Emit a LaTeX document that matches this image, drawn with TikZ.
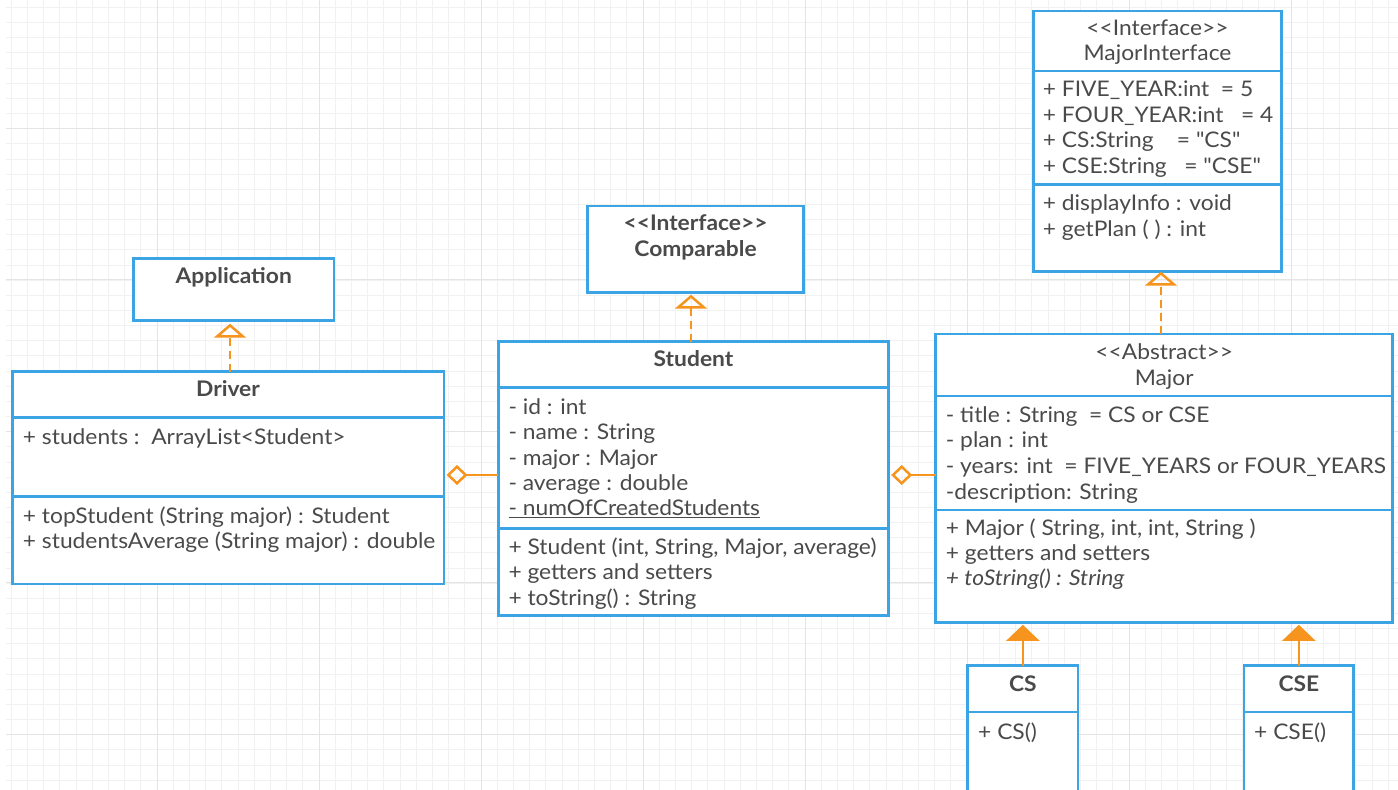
\documentclass[tikz,border=0pt]{standalone}
\usepackage{fontspec}
\setmainfont{Lato}[Ligatures=TeXOff, FakeStretch=1.06]
\usetikzlibrary{arrows.meta}
\definecolor{umlblue}{HTML}{3AA4E4}
\definecolor{umlorange}{HTML}{F7941E}
\definecolor{umltext}{HTML}{4A4A4A}
\definecolor{gridminor}{HTML}{F1F1F1}
\definecolor{gridmajor}{HTML}{E4E4E4}
\begin{document}
\begin{tikzpicture}[x=1pt,y=-1pt,
  box/.style={draw=umlblue, line width=2.5pt, fill=white, anchor=north west, inner sep=0pt, outer sep=0pt},
  sep/.style={draw=umlblue, line width=2.5pt},
  txt/.style={anchor=base west, inner sep=0pt, text=umltext, font=\fontsize{21.5}{25}\selectfont},
  ctr/.style={anchor=base, inner sep=0pt, text=umltext, font=\fontsize{21.5}{25}\selectfont},
  ttl/.style={anchor=base, inner sep=0pt, text=umltext, font=\fontsize{21.5}{25}\selectfont\bfseries},
  realize/.style={draw=umlorange, line width=2.5pt, dash pattern=on 8pt off 5pt,
    -{Triangle[open, length=14pt, width=32pt, line width=2.5pt]}},
  inherit/.style={draw=umlorange, line width=2.5pt, -{Triangle[length=16pt, width=33pt]}},
  agg/.style={draw=umlorange, line width=2.5pt, -{Diamond[open, length=21pt, width=20pt, line width=2.5pt]}}
]
\useasboundingbox (0,0) rectangle (1398,790);
\clip (0,0) rectangle (1398,790);
\fill[white] (0,0) rectangle (1398,790);
% grid
\foreach \i in {0,...,86} \draw[gridminor, line width=1pt] ({11.2+16.2*\i},0) -- ({11.2+16.2*\i},790);
\foreach \j in {0,...,52} \draw[gridminor, line width=1pt] (6,{7.5+15.15*\j}) -- (1398,{7.5+15.15*\j});
\foreach \i in {0,...,8} \draw[gridmajor, line width=1pt] ({157+162*\i},0) -- ({157+162*\i},790);
\foreach \j in {0,...,4} \draw[gridmajor, line width=1pt] (6,{128+151.5*\j}) -- (1398,{128+151.5*\j});

% ---------- MajorInterface ----------
\node[box, minimum width=248.4pt, minimum height=260.7pt] (majorif) at (1033.3,11) {};
\draw[sep] (majorif.west |- 0,71) -- (majorif.east |- 0,71);
\draw[sep] (majorif.west |- 0,184.3) -- (majorif.east |- 0,184.3);
\node[ctr] (mi1) at (1157.5,35) {<<Interface>>};
\node[ctr] (mi2) at (1157.5,60) {MajorInterface};
\node[txt] (mi3) at (1042.7,96.7) {+ FIVE\_YEAR:int\ \ = 5};
\node[txt] (mi4) at (1042.7,122.2) {+ FOUR\_YEAR:int\ \ \ = 4};
\node[txt] (mi5) at (1042.7,147.7) {+ CS:String\ \ \ \ = "CS"};
\node[txt] (mi6) at (1042.7,173.2) {+ CSE:String\ \ \ = "CSE"};
\node[txt] (mi7) at (1042.7,210.7) {+ displayInfo : void};
\node[txt] (mi8) at (1042.7,236.2) {+ getPlan ( ) : int};

% ---------- Application ----------
\node[box, minimum width=200.7pt, minimum height=62.4pt] (application) at (133.3,258.3) {};
\node[ttl] (ap1) at (233.7,283.3) {Application};

% ---------- Comparable ----------
\node[box, minimum width=215.6pt, minimum height=86.7pt] (comparable) at (587.7,206) {};
\node[ttl] (co1) at (695.5,230.7) {<<Interface>>};
\node[ttl] (co2) at (695.5,256.7) {Comparable};

% ---------- Driver ----------
\node[box, minimum width=431.7pt, minimum height=212.3pt] (driver) at (12.3,371.7) {};
\draw[sep] (driver.west |- 0,417.7) -- (driver.east |- 0,417.7);
\draw[sep] (driver.west |- 0,496.7) -- (driver.east |- 0,496.7);
\node[ttl] (dr1) at (228,396.7) {Driver};
\node[txt] (dr2) at (22.7,444.3) {+ students :\ \ ArrayList<Student>};
\node[txt] (dr3) at (22.7,523.3) {+ topStudent (String major) : Student};
\node[txt] (dr4) at (22.7,548.3) {+ studentsAverage (String major) : double};

% ---------- Student ----------
\node[box, minimum width=390.4pt, minimum height=274pt] (student) at (498.3,341.7) {};
\draw[sep] (student.west |- 0,387.7) -- (student.east |- 0,387.7);
\draw[sep] (student.west |- 0,528.3) -- (student.east |- 0,528.3);
\node[ttl] (st1) at (693.5,366.7) {Student};
\node[txt] (st2) at (508.3,414) {- id : int};
\node[txt] (st3) at (508.3,439.5) {- name : String};
\node[txt] (st4) at (508.3,465) {- major : Major};
\node[txt] (st5) at (508.3,490.5) {- average : double};
\node[txt] (st6) at (508.3,515.7) {\underline{- numOfCreatedStudents}};
\node[txt] (st7) at (508.3,554.3) {+ Student (int, String, Major, average)};
\node[txt] (st8) at (508.3,579.7) {+ getters and setters};
\node[txt] (st9) at (508.3,605) {+ toString() : String};

% ---------- Major ----------
\node[box, minimum width=457pt, minimum height=288.3pt] (major) at (935.7,334) {};
\draw[sep] (major.west |- 0,396) -- (major.east |- 0,396);
\draw[sep] (major.west |- 0,510) -- (major.east |- 0,510);
\node[ctr] (ma1) at (1164.2,359.3) {<<Abstract>>};
\node[ctr] (ma2) at (1164.2,385) {Major};
\node[txt] (ma3) at (945.7,422.3) {- title : String\ \ = CS or CSE};
\node[txt] (ma4) at (945.7,447.7) {- plan : int};
\node[txt] (ma5) at (945.7,473.3) {- years: int\ \ = FIVE\_YEARS or FOUR\_YEARS};
\node[txt] (ma6) at (945.7,499) {-description: String};
\node[txt] (ma7) at (945.7,535) {+ Major ( String, int, int, String )};
\node[txt] (ma8) at (945.7,560.3) {+ getters and setters};
\node[txt] (ma9) at (945.7,585.7) {\itshape + toString() : String};

% ---------- CS / CSE ----------
\node[box, minimum width=110.3pt, minimum height=140pt] (cs) at (967.7,665.7) {};
\draw[sep] (cs.west |- 0,712) -- (cs.east |- 0,712);
\node[ttl] (cs1) at (1022.9,691.7) {CS};
\node[txt] (cs2) at (978,739.3) {+ CS()};
\node[box, minimum width=109.7pt, minimum height=140pt] (cse) at (1244,665.7) {};
\draw[sep] (cse.west |- 0,712) -- (cse.east |- 0,712);
\node[ttl] (ce1) at (1298.9,691.7) {CSE};
\node[txt] (ce2) at (1254,739.3) {+ CSE()};

% ---------- connectors ----------
\draw[realize, shorten >=3pt] (driver.north -| 230,0) -- (application.south -| 230,0);
\draw[realize, shorten >=2pt] (student.north -| 691,0) -- (comparable.south -| 691,0);
\draw[realize] (major.north -| 1161,0) -- (majorif.south -| 1161,0);
\draw[inherit, shorten >=2.5pt] (cs.north) -- (cs.north |- major.south);
\draw[inherit, shorten >=2.5pt] (cse.north) -- (cse.north |- major.south);
\draw[agg, shorten >=2.5pt] (student.west |- 0,475) -- (driver.east |- 0,475);
\draw[agg, shorten >=2.5pt] (major.west |- 0,475) -- (student.east |- 0,475);
\end{tikzpicture}
\end{document}
